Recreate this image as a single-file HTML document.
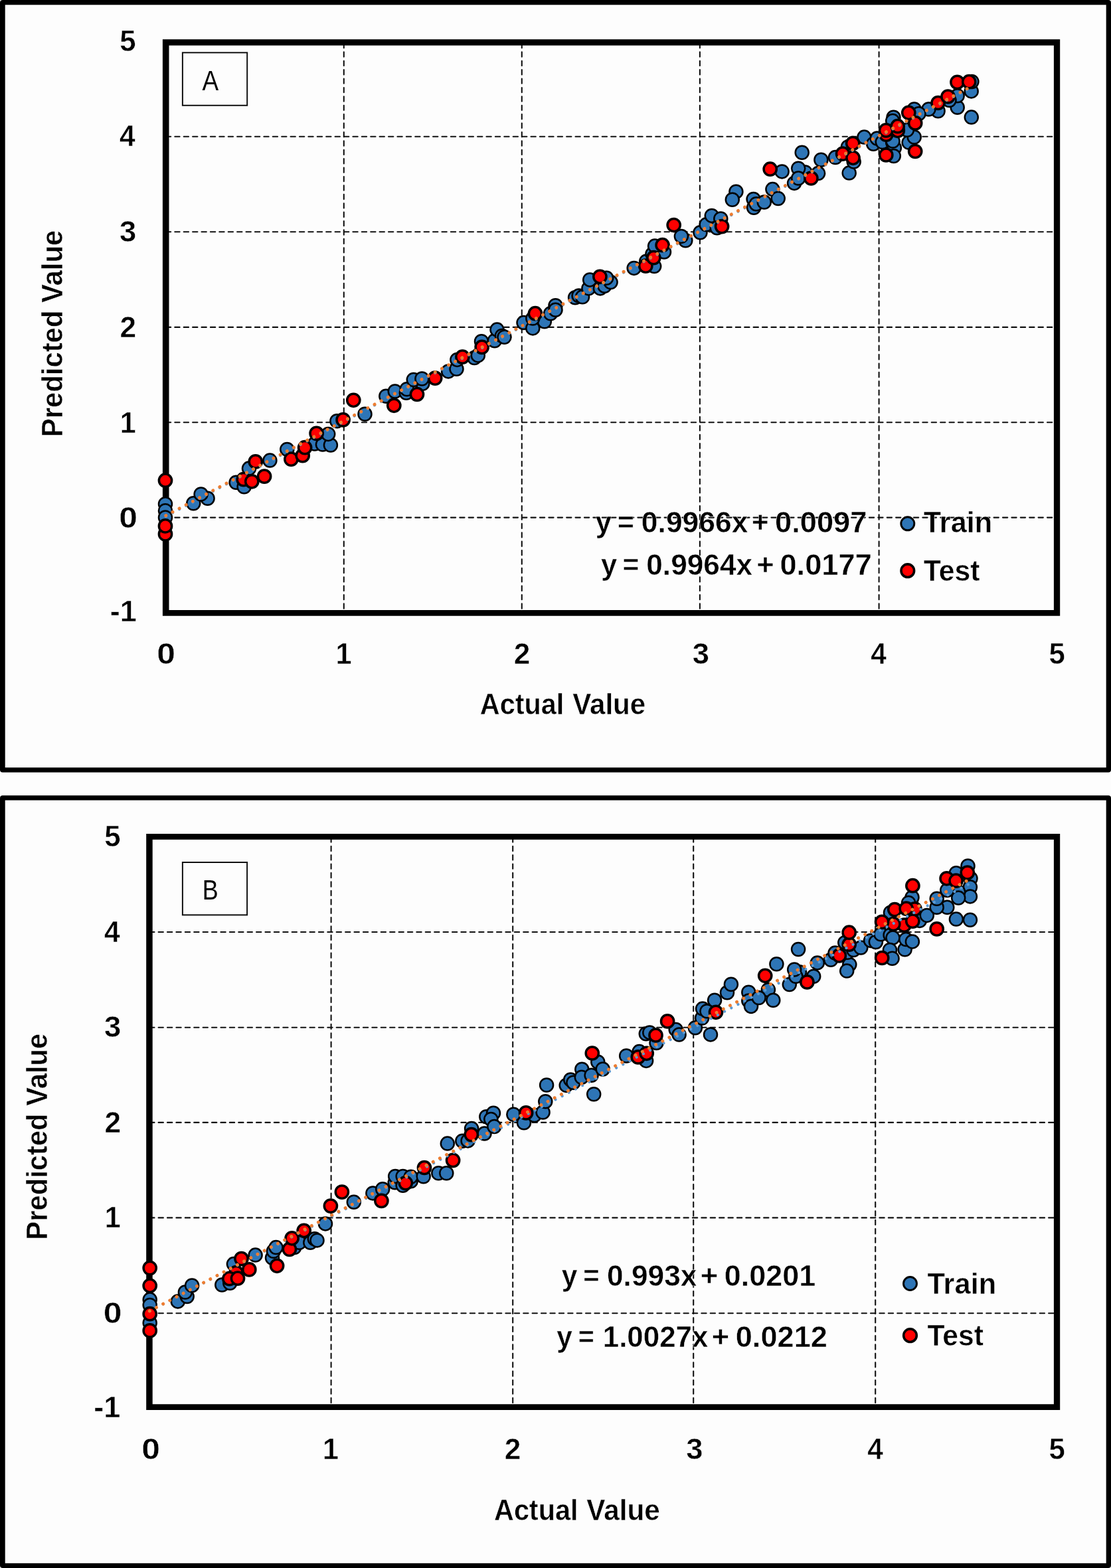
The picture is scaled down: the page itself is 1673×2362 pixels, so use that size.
<!DOCTYPE html>
<html lang="en">
<head>
<meta charset="utf-8">
<title>Predicted vs Actual Value</title>
<style>
html,body{margin:0;padding:0;background:#fdfdfd;}
body{width:1673px;height:2362px;overflow:hidden;}
svg{display:block;}
text{font-family:'Liberation Sans', Arial, Helvetica, sans-serif;fill:#000;}
text[font-weight=bold]{stroke:#fdfdfd;stroke-width:0.5;stroke-linejoin:round;}
.grid line{stroke:#111;stroke-width:2.1;stroke-linecap:round;stroke-dasharray:7.3 6.105;}
.b circle{fill:#2e75b6;stroke:#000;stroke-width:2.5;}
.r circle{fill:#ff0000;stroke:#000;stroke-width:3.5;}
.tr{stroke-width:5;stroke-linecap:round;stroke-dasharray:0.01 11.477;fill:none;}
.t1{stroke-width:4.2;}
</style>
</head>
<body>
<svg width="1673" height="2362" viewBox="0 0 1673 2362">
<rect x="0" y="0" width="1673" height="2362" fill="#fdfdfd"/>
<g id="panel-a">
<rect x="0" y="0" width="1673" height="1163.4" rx="4" fill="#000"/>
<rect x="7.7" y="7.3" width="1658" height="1148.9" fill="#fdfdfd"/>
<g class="grid"><line x1="517.8" y1="64.9" x2="517.8" y2="919.9"/><line x1="785.8" y1="64.9" x2="785.8" y2="919.9"/><line x1="1053.9" y1="64.9" x2="1053.9" y2="919.9"/><line x1="1323.6" y1="64.9" x2="1323.6" y2="919.9"/><line x1="249.9" y1="205.7" x2="1587.9" y2="205.7"/><line x1="249.9" y1="349.2" x2="1587.9" y2="349.2"/><line x1="249.9" y1="492.9" x2="1587.9" y2="492.9"/><line x1="249.9" y1="636.3" x2="1587.9" y2="636.3"/><line x1="249.9" y1="779.6" x2="1587.9" y2="779.6"/></g>
<path fill-rule="evenodd" fill="#000" d="M244.9 59.3H1596.2V927.8H244.9Z M254.5 68.5H1586.9V918.9H254.5Z"/>
<rect x="274.9" y="79.3" width="97.3" height="79.5" fill="#fdfdfd" stroke="#111" stroke-width="2"/>
<text transform="translate(304.52 135.8) scale(0.8802 1)" font-size="42" font-weight="normal">A</text>
<g class="tick"><text transform="translate(180.34 77.15) scale(0.969 1)" font-size="45.2" font-weight="bold">5</text><text transform="translate(179.91 220.25) scale(0.9423 1)" font-size="45.2" font-weight="bold">4</text><text transform="translate(179.91 364.25) scale(1.0056 1)" font-size="45.2" font-weight="bold">3</text><text transform="translate(180.52 507.95) scale(0.9798 1)" font-size="45.2" font-weight="bold">2</text><text transform="translate(180.66 651.55) scale(0.9556 1)" font-size="45.2" font-weight="bold">1</text><text transform="translate(179.15 794.65) scale(1.1039 1)" font-size="45.2" font-weight="bold">0</text><text transform="translate(165.87 936.45) scale(0.9969 1)" font-size="45.2" font-weight="bold">-1</text><text transform="translate(236.15 999.85) scale(1.1039 1)" font-size="45.2" font-weight="bold">0</text><text transform="translate(505.46 999.85) scale(0.9556 1)" font-size="45.2" font-weight="bold">1</text><text transform="translate(773.72 999.85) scale(0.9798 1)" font-size="45.2" font-weight="bold">2</text><text transform="translate(1042.81 999.85) scale(1.0056 1)" font-size="45.2" font-weight="bold">3</text><text transform="translate(1311.26 999.85) scale(0.9423 1)" font-size="45.2" font-weight="bold">4</text><text transform="translate(1579.44 999.85) scale(0.969 1)" font-size="45.2" font-weight="bold">5</text></g>
<text y="1075.95" font-size="45.2" font-weight="bold"><tspan x="722.82" textLength="126.37" lengthAdjust="spacingAndGlyphs">Actual</tspan> <tspan x="862.14" textLength="110.19" lengthAdjust="spacingAndGlyphs">Value</tspan></text>
<text transform="translate(94.45 658.17) rotate(-90) scale(0.9253 1)" font-size="45.2" font-weight="bold">Predicted Value</text>
<text y="801.95" font-size="45.2" font-weight="bold"><tspan x="896.81" textLength="24.2" lengthAdjust="spacingAndGlyphs">y</tspan> <tspan x="930.05" textLength="24.86" lengthAdjust="spacingAndGlyphs">=</tspan> <tspan x="965.87" textLength="160.51" lengthAdjust="spacingAndGlyphs">0.9966x</tspan> <tspan x="1131.9" textLength="25.56" lengthAdjust="spacingAndGlyphs">+</tspan> <tspan x="1167.04" textLength="138.38" lengthAdjust="spacingAndGlyphs">0.0097</tspan></text>
<text y="865.65" font-size="45.2" font-weight="bold"><tspan x="904.91" textLength="24.2" lengthAdjust="spacingAndGlyphs">y</tspan> <tspan x="937.45" textLength="24.86" lengthAdjust="spacingAndGlyphs">=</tspan> <tspan x="973.28" textLength="159.9" lengthAdjust="spacingAndGlyphs">0.9964x</tspan> <tspan x="1139.24" textLength="26.48" lengthAdjust="spacingAndGlyphs">+</tspan> <tspan x="1174.44" textLength="138.38" lengthAdjust="spacingAndGlyphs">0.0177</tspan></text>
<g class="b"><circle cx="249" cy="759.2" r="10"/><circle cx="249" cy="769.3" r="10"/><circle cx="249" cy="779.5" r="10"/><circle cx="291.3" cy="758.2" r="10"/><circle cx="312.6" cy="750.8" r="10"/><circle cx="302.6" cy="744.4" r="10"/><circle cx="355.6" cy="726.8" r="10"/><circle cx="367.6" cy="733.3" r="10"/><circle cx="375" cy="705.6" r="10"/><circle cx="406.4" cy="693.6" r="10"/><circle cx="432.3" cy="676.9" r="10"/><circle cx="473.8" cy="668.6" r="10"/><circle cx="485.9" cy="669.6" r="10"/><circle cx="497.9" cy="670.5" r="10"/><circle cx="494.2" cy="653.9" r="10"/><circle cx="507.4" cy="634.3" r="10"/><circle cx="549.5" cy="623.7" r="10"/><circle cx="581.3" cy="596.7" r="10"/><circle cx="594.8" cy="589.5" r="10"/><circle cx="611.8" cy="591.8" r="10"/><circle cx="612.7" cy="586.2" r="10"/><circle cx="636.3" cy="577.9" r="10"/><circle cx="622.8" cy="572" r="10"/><circle cx="635.4" cy="570.5" r="10"/><circle cx="675.1" cy="559.4" r="10"/><circle cx="687.5" cy="555.7" r="10"/><circle cx="688.4" cy="541.9" r="10"/><circle cx="714.3" cy="539.1" r="10"/><circle cx="719.8" cy="535.4" r="10"/><circle cx="725" cy="514.2" r="10"/><circle cx="744.8" cy="513.3" r="10"/><circle cx="748.5" cy="496.6" r="10"/><circle cx="755.9" cy="505.9" r="10"/><circle cx="759.5" cy="507.7" r="10"/><circle cx="788.5" cy="486.1" r="10"/><circle cx="802.3" cy="494.4" r="10"/><circle cx="819.9" cy="484.2" r="10"/><circle cx="802.3" cy="479.6" r="10"/><circle cx="829.1" cy="472.2" r="10"/><circle cx="836.5" cy="460.2" r="10"/><circle cx="836.5" cy="466.7" r="10"/><circle cx="866.1" cy="448.2" r="10"/><circle cx="871.6" cy="445.5" r="10"/><circle cx="877.1" cy="447.3" r="10"/><circle cx="886.4" cy="434.4" r="10"/><circle cx="888.2" cy="421.4" r="10"/><circle cx="903.9" cy="434.4" r="10"/><circle cx="910.4" cy="430.7" r="10"/><circle cx="919.6" cy="425.1" r="10"/><circle cx="913.2" cy="418.7" r="10"/><circle cx="954.7" cy="403.9" r="10"/><circle cx="985.2" cy="401.1" r="10"/><circle cx="973.2" cy="393.7" r="10"/><circle cx="982.4" cy="382.6" r="10"/><circle cx="1000" cy="379.5" r="10"/><circle cx="986.1" cy="370.6" r="10"/><circle cx="1032.3" cy="362.3" r="10"/><circle cx="1025.9" cy="355.9" r="10"/><circle cx="1054.5" cy="350.3" r="10"/><circle cx="1063.7" cy="338.3" r="10"/><circle cx="1071.8" cy="324.9" r="10"/><circle cx="1085.3" cy="329.5" r="10"/><circle cx="1079.7" cy="343.3" r="10"/><circle cx="1108.4" cy="288.8" r="10"/><circle cx="1102.8" cy="300.8" r="10"/><circle cx="1134.6" cy="299.9" r="10"/><circle cx="1135.1" cy="312.8" r="10"/><circle cx="1138.8" cy="307.3" r="10"/><circle cx="1150.8" cy="304.5" r="10"/><circle cx="1163.4" cy="285.1" r="10"/><circle cx="1171.7" cy="299" r="10"/><circle cx="1177.6" cy="258.4" r="10"/><circle cx="1196.1" cy="275.9" r="10"/><circle cx="1212.5" cy="259.5" r="10"/><circle cx="1202.2" cy="253.7" r="10"/><circle cx="1202.2" cy="268.5" r="10"/><circle cx="1207.7" cy="229.7" r="10"/><circle cx="1232.1" cy="261.1" r="10"/><circle cx="1236.4" cy="240.8" r="10"/><circle cx="1258" cy="237.1" r="10"/><circle cx="1278.7" cy="260.6" r="10"/><circle cx="1285.7" cy="243.6" r="10"/><circle cx="1277" cy="221.2" r="10"/><circle cx="1301.4" cy="206.6" r="10"/><circle cx="1315.2" cy="216.8" r="10"/><circle cx="1320.8" cy="208.5" r="10"/><circle cx="1328.8" cy="214" r="10"/><circle cx="1462.8" cy="176.6" r="10"/><circle cx="1462.7" cy="137.4" r="10"/><circle cx="1463.4" cy="123" r="10"/><circle cx="1441.7" cy="161.8" r="10"/><circle cx="1441.7" cy="144.2" r="10"/><circle cx="1429.5" cy="151" r="10"/><circle cx="1412.6" cy="167.2" r="10"/><circle cx="1398.4" cy="164.5" r="10"/><circle cx="1376.7" cy="164.5" r="10"/><circle cx="1383.5" cy="171.3" r="10"/><circle cx="1345.5" cy="176.7" r="10"/><circle cx="1344.2" cy="182.1" r="10"/><circle cx="1368.6" cy="214.6" r="10"/><circle cx="1376.7" cy="206.5" r="10"/><circle cx="1365.9" cy="195.7" r="10"/><circle cx="1344.2" cy="214.6" r="10"/><circle cx="1346.9" cy="222.8" r="10"/><circle cx="1345.8" cy="235" r="10"/><circle cx="1344.5" cy="212.5" r="10"/></g>
<g class="r"><circle cx="249" cy="723.7" r="9.6"/><circle cx="249" cy="804.4" r="9.6"/><circle cx="249" cy="792.4" r="9.6"/><circle cx="384.8" cy="695.4" r="9.6"/><circle cx="398.1" cy="717.6" r="9.6"/><circle cx="366.7" cy="722.2" r="9.6"/><circle cx="379.3" cy="725.3" r="9.6"/><circle cx="438.4" cy="691.7" r="9.6"/><circle cx="455.7" cy="686.2" r="9.6"/><circle cx="459.1" cy="674.2" r="9.6"/><circle cx="476.6" cy="652.9" r="9.6"/><circle cx="532.3" cy="602.8" r="9.6"/><circle cx="516.6" cy="632.4" r="9.6"/><circle cx="593.3" cy="610.8" r="9.6"/><circle cx="628" cy="594" r="9.6"/><circle cx="655.2" cy="569.6" r="9.6"/><circle cx="696.4" cy="537.6" r="9.6"/><circle cx="725.7" cy="522.9" r="9.6"/><circle cx="806" cy="472.2" r="9.6"/><circle cx="903.4" cy="416.8" r="9.6"/><circle cx="972.3" cy="400.6" r="9.6"/><circle cx="984.3" cy="388.2" r="9.6"/><circle cx="997.6" cy="369.2" r="9.6"/><circle cx="1014.7" cy="339" r="9.6"/><circle cx="1087.1" cy="341.1" r="9.6"/><circle cx="1159.7" cy="254.7" r="9.6"/><circle cx="1221.4" cy="268.5" r="9.6"/><circle cx="1269.1" cy="231.6" r="9.6"/><circle cx="1284.5" cy="237.8" r="9.6"/><circle cx="1284.2" cy="216" r="9.6"/><circle cx="1334.4" cy="202.6" r="9.6"/><circle cx="1351.8" cy="196.8" r="9.6"/><circle cx="1334.3" cy="233.5" r="9.6"/><circle cx="1378.2" cy="228" r="9.6"/><circle cx="1334.2" cy="196.4" r="9.6"/><circle cx="1351.7" cy="190.2" r="9.6"/><circle cx="1378.2" cy="185.4" r="9.6"/><circle cx="1368.3" cy="169.8" r="9.6"/><circle cx="1412.6" cy="155" r="9.6"/><circle cx="1427.5" cy="145.5" r="9.6"/><circle cx="1441.5" cy="123.9" r="9.6"/><circle cx="1459.3" cy="123.2" r="9.6"/></g>
<line class="tr t1" x1="249.8" y1="777.9" x2="1462.6" y2="131.4" stroke="#5b9bd5"/>
<line class="tr" x1="249.8" y1="776.7" x2="1462.6" y2="130.3" stroke="#ed7d31"/>
<g class="b"><circle cx="1366.8" cy="788.8" r="10" style="stroke-width:2.9"/></g>
<text transform="translate(1390.82 801.85) scale(0.9565 1)" font-size="45.2" font-weight="bold">Train</text>
<g class="r"><circle cx="1366.8" cy="859.7" r="9.8" style="stroke-width:3.6"/></g>
<text transform="translate(1390.82 874.75) scale(0.9448 1)" font-size="45.2" font-weight="bold">Test</text>
</g>
<g id="panel-b">
<rect x="0" y="1198.3" width="1673" height="1163.7" rx="4" fill="#000"/>
<rect x="7.7" y="1205.5" width="1658" height="1149.3" fill="#fdfdfd"/>
<g class="grid"><line x1="498.6" y1="1261.3" x2="498.6" y2="2116.2"/><line x1="772.2" y1="1261.3" x2="772.2" y2="2116.2"/><line x1="1044.2" y1="1261.3" x2="1044.2" y2="2116.2"/><line x1="1318.2" y1="1261.3" x2="1318.2" y2="2116.2"/><line x1="225.2" y1="1404" x2="1587.9" y2="1404"/><line x1="225.2" y1="1547.7" x2="1587.9" y2="1547.7"/><line x1="225.2" y1="1690.9" x2="1587.9" y2="1690.9"/><line x1="225.2" y1="1834.4" x2="1587.9" y2="1834.4"/><line x1="225.2" y1="1978.3" x2="1587.9" y2="1978.3"/></g>
<path fill-rule="evenodd" fill="#000" d="M220.2 1256H1596.2V2124H220.2Z M229.7 1264.7H1586.9V2115.2H229.7Z"/>
<rect x="274.9" y="1299" width="97.2" height="79.3" fill="#fdfdfd" stroke="#111" stroke-width="2"/>
<text transform="translate(304.83 1355.2) scale(0.8545 1)" font-size="42" font-weight="normal">B</text>
<g class="tick"><text transform="translate(157.34 1275.15) scale(0.969 1)" font-size="45.2" font-weight="bold">5</text><text transform="translate(156.91 1418.85) scale(0.9423 1)" font-size="45.2" font-weight="bold">4</text><text transform="translate(156.91 1562.45) scale(1.0056 1)" font-size="45.2" font-weight="bold">3</text><text transform="translate(157.52 1705.95) scale(0.9798 1)" font-size="45.2" font-weight="bold">2</text><text transform="translate(157.66 1849.35) scale(0.9556 1)" font-size="45.2" font-weight="bold">1</text><text transform="translate(155.85 1993.15) scale(1.1039 1)" font-size="45.2" font-weight="bold">0</text><text transform="translate(141.27 2135.15) scale(0.9969 1)" font-size="45.2" font-weight="bold">-1</text><text transform="translate(213.25 2198.45) scale(1.1039 1)" font-size="45.2" font-weight="bold">0</text><text transform="translate(485.96 2198.45) scale(0.9556 1)" font-size="45.2" font-weight="bold">1</text><text transform="translate(759.72 2198.45) scale(0.9798 1)" font-size="45.2" font-weight="bold">2</text><text transform="translate(1033.31 2198.45) scale(1.0056 1)" font-size="45.2" font-weight="bold">3</text><text transform="translate(1306.26 2198.45) scale(0.9423 1)" font-size="45.2" font-weight="bold">4</text><text transform="translate(1579.44 2198.45) scale(0.969 1)" font-size="45.2" font-weight="bold">5</text></g>
<text y="2289.85" font-size="45.2" font-weight="bold"><tspan x="744.02" textLength="126.37" lengthAdjust="spacingAndGlyphs">Actual</tspan> <tspan x="883.34" textLength="110.5" lengthAdjust="spacingAndGlyphs">Value</tspan></text>
<text transform="translate(71.35 1867.66) rotate(-90) scale(0.9241 1)" font-size="45.2" font-weight="bold">Predicted Value</text>
<text y="1936.95" font-size="45.2" font-weight="bold"><tspan x="845.82" textLength="23.69" lengthAdjust="spacingAndGlyphs">y</tspan> <tspan x="878.18" textLength="24.4" lengthAdjust="spacingAndGlyphs">=</tspan> <tspan x="913.98" textLength="135.45" lengthAdjust="spacingAndGlyphs">0.993x</tspan> <tspan x="1054.84" textLength="26.48" lengthAdjust="spacingAndGlyphs">+</tspan> <tspan x="1090.75" textLength="137.46" lengthAdjust="spacingAndGlyphs">0.0201</tspan></text>
<text y="2029.15" font-size="45.2" font-weight="bold"><tspan x="838.13" textLength="23.59" lengthAdjust="spacingAndGlyphs">y</tspan> <tspan x="870.8" textLength="24.05" lengthAdjust="spacingAndGlyphs">=</tspan> <tspan x="907.72" textLength="158.66" lengthAdjust="spacingAndGlyphs">1.0027x</tspan> <tspan x="1071.84" textLength="26.37" lengthAdjust="spacingAndGlyphs">+</tspan> <tspan x="1107.74" textLength="138.15" lengthAdjust="spacingAndGlyphs">0.0212</tspan></text>
<g class="b"><circle cx="225.7" cy="1957.6" r="10"/><circle cx="225.7" cy="1965.9" r="10"/><circle cx="225.7" cy="1992.7" r="10"/><circle cx="267.8" cy="1960.4" r="10"/><circle cx="281.7" cy="1953" r="10"/><circle cx="278.9" cy="1946.5" r="10"/><circle cx="289.1" cy="1936.4" r="10"/><circle cx="334.3" cy="1935.5" r="10"/><circle cx="346.3" cy="1932.7" r="10"/><circle cx="351.9" cy="1904.1" r="10"/><circle cx="384.6" cy="1890.6" r="10"/><circle cx="410" cy="1894.8" r="10"/><circle cx="411.9" cy="1884.7" r="10"/><circle cx="415.6" cy="1879.1" r="10"/><circle cx="443.3" cy="1879.1" r="10"/><circle cx="450.7" cy="1871.7" r="10"/><circle cx="467.3" cy="1871.7" r="10"/><circle cx="473.8" cy="1866.2" r="10"/><circle cx="477.5" cy="1868.4" r="10"/><circle cx="490" cy="1843.4" r="10"/><circle cx="532.8" cy="1810.7" r="10"/><circle cx="561.4" cy="1797.4" r="10"/><circle cx="576.2" cy="1791.3" r="10"/><circle cx="594.7" cy="1781.2" r="10"/><circle cx="595.2" cy="1771.9" r="10"/><circle cx="606.7" cy="1785.8" r="10"/><circle cx="606.7" cy="1771.9" r="10"/><circle cx="618.7" cy="1779.3" r="10"/><circle cx="618.7" cy="1772.8" r="10"/><circle cx="637.7" cy="1772.3" r="10"/><circle cx="660.3" cy="1767.3" r="10"/><circle cx="672.3" cy="1767.3" r="10"/><circle cx="673.8" cy="1722.6" r="10"/><circle cx="696.3" cy="1718.7" r="10"/><circle cx="704.6" cy="1718.4" r="10"/><circle cx="710.1" cy="1699.9" r="10"/><circle cx="729.5" cy="1707.6" r="10"/><circle cx="732.3" cy="1682.3" r="10"/><circle cx="743" cy="1676.8" r="10"/><circle cx="739.3" cy="1686" r="10"/><circle cx="744.3" cy="1697.1" r="10"/><circle cx="773.3" cy="1678.8" r="10"/><circle cx="789" cy="1691.2" r="10"/><circle cx="804.7" cy="1680.1" r="10"/><circle cx="817.6" cy="1675.5" r="10"/><circle cx="821.3" cy="1659.2" r="10"/><circle cx="823.1" cy="1634.5" r="10"/><circle cx="852.7" cy="1634.9" r="10"/><circle cx="859.2" cy="1626.5" r="10"/><circle cx="863.4" cy="1630.8" r="10"/><circle cx="876.3" cy="1610.8" r="10"/><circle cx="875.8" cy="1622.8" r="10"/><circle cx="890.6" cy="1619.7" r="10"/><circle cx="894.2" cy="1648.2" r="10"/><circle cx="900.3" cy="1599.8" r="10"/><circle cx="907.7" cy="1610.5" r="10"/><circle cx="943.2" cy="1590.5" r="10"/><circle cx="962.6" cy="1584.1" r="10"/><circle cx="973.1" cy="1597.9" r="10"/><circle cx="972.8" cy="1557.3" r="10"/><circle cx="978.3" cy="1555.4" r="10"/><circle cx="988.5" cy="1571.1" r="10"/><circle cx="1017.7" cy="1550.9" r="10"/><circle cx="1022.6" cy="1558.6" r="10"/><circle cx="1046.9" cy="1548.3" r="10"/><circle cx="1070" cy="1558.4" r="10"/><circle cx="1057.1" cy="1533.5" r="10"/><circle cx="1058" cy="1519.6" r="10"/><circle cx="1064.5" cy="1523.3" r="10"/><circle cx="1076.1" cy="1506.7" r="10"/><circle cx="1095" cy="1495.2" r="10"/><circle cx="1100.9" cy="1482.7" r="10"/><circle cx="1127.3" cy="1494.7" r="10"/><circle cx="1127.3" cy="1507.6" r="10"/><circle cx="1131" cy="1515.9" r="10"/><circle cx="1156.9" cy="1491" r="10"/><circle cx="1142.6" cy="1503" r="10"/><circle cx="1164.3" cy="1506.7" r="10"/><circle cx="1169.4" cy="1452.2" r="10"/><circle cx="1188.8" cy="1483.1" r="10"/><circle cx="1204" cy="1464.2" r="10"/><circle cx="1198.4" cy="1470.7" r="10"/><circle cx="1196.2" cy="1460.5" r="10"/><circle cx="1202.1" cy="1430" r="10"/><circle cx="1225.2" cy="1470.7" r="10"/><circle cx="1230.8" cy="1450.4" r="10"/><circle cx="1251.1" cy="1445.7" r="10"/><circle cx="1257.5" cy="1435.6" r="10"/><circle cx="1279.3" cy="1453" r="10"/><circle cx="1275.2" cy="1462.6" r="10"/><circle cx="1276" cy="1434.7" r="10"/><circle cx="1285.2" cy="1431" r="10"/><circle cx="1296.3" cy="1427.6" r="10"/><circle cx="1272.3" cy="1419.9" r="10"/><circle cx="1311.1" cy="1416.9" r="10"/><circle cx="1318.9" cy="1419" r="10"/><circle cx="1326.4" cy="1407.2" r="10"/><circle cx="1340.6" cy="1408.5" r="10"/><circle cx="1344.5" cy="1412.6" r="10"/><circle cx="1340" cy="1431" r="10"/><circle cx="1343.6" cy="1443.7" r="10"/><circle cx="1362.6" cy="1430.2" r="10"/><circle cx="1364.3" cy="1415" r="10"/><circle cx="1373.9" cy="1418.4" r="10"/><circle cx="1384.8" cy="1386.9" r="10"/><circle cx="1395.8" cy="1378.9" r="10"/><circle cx="1457.5" cy="1304.4" r="10"/><circle cx="1439.9" cy="1315.2" r="10"/><circle cx="1461.5" cy="1323.3" r="10"/><circle cx="1460.9" cy="1336.2" r="10"/><circle cx="1460.9" cy="1350.4" r="10"/><circle cx="1443.2" cy="1343.7" r="10"/><circle cx="1443.2" cy="1352.5" r="10"/><circle cx="1426.3" cy="1341" r="10"/><circle cx="1460.9" cy="1385.7" r="10"/><circle cx="1439.9" cy="1384.6" r="10"/><circle cx="1426.3" cy="1366.7" r="10"/><circle cx="1410.7" cy="1366.7" r="10"/><circle cx="1410.7" cy="1353.8" r="10"/><circle cx="1372.1" cy="1355.9" r="10"/><circle cx="1373.5" cy="1351.8" r="10"/><circle cx="1368.1" cy="1359.9" r="10"/><circle cx="1341" cy="1374.8" r="10"/></g>
<g class="r"><circle cx="225.7" cy="1910.1" r="9.6"/><circle cx="225.7" cy="1936.8" r="9.6"/><circle cx="225.7" cy="2004.4" r="9.6"/><circle cx="225.7" cy="1979.2" r="9.6"/><circle cx="355.6" cy="1917" r="9.6"/><circle cx="345.4" cy="1926.2" r="9.6"/><circle cx="358" cy="1925.7" r="9.6"/><circle cx="363.5" cy="1896.1" r="9.6"/><circle cx="375.3" cy="1912.4" r="9.6"/><circle cx="417.1" cy="1906.8" r="9.6"/><circle cx="435.9" cy="1881.9" r="9.6"/><circle cx="439.6" cy="1865.3" r="9.6"/><circle cx="457.7" cy="1853.8" r="9.6"/><circle cx="497.9" cy="1816.6" r="9.6"/><circle cx="514.9" cy="1795.6" r="9.6"/><circle cx="574.4" cy="1808.9" r="9.6"/><circle cx="610.8" cy="1782.1" r="9.6"/><circle cx="639" cy="1759" r="9.6"/><circle cx="682.1" cy="1747.9" r="9.6"/><circle cx="709.8" cy="1709.1" r="9.6"/><circle cx="792.1" cy="1676.4" r="9.6"/><circle cx="891.8" cy="1586.5" r="9.6"/><circle cx="960.8" cy="1592.4" r="9.6"/><circle cx="973.7" cy="1586.8" r="9.6"/><circle cx="987.5" cy="1559.5" r="9.6"/><circle cx="1005.1" cy="1538.4" r="9.6"/><circle cx="1078" cy="1524.8" r="9.6"/><circle cx="1152.2" cy="1469.8" r="9.6"/><circle cx="1215.4" cy="1479.4" r="9.6"/><circle cx="1263.8" cy="1439.4" r="9.6"/><circle cx="1278.7" cy="1422.6" r="9.6"/><circle cx="1278.7" cy="1404.7" r="9.6"/><circle cx="1328.2" cy="1443" r="9.6"/><circle cx="1410.7" cy="1399.4" r="9.6"/><circle cx="1377.5" cy="1369.4" r="9.6"/><circle cx="1361.6" cy="1393.6" r="9.6"/><circle cx="1345.3" cy="1392" r="9.6"/><circle cx="1328.1" cy="1388.9" r="9.6"/><circle cx="1374.3" cy="1387.6" r="9.6"/><circle cx="1347.3" cy="1370.1" r="9.6"/><circle cx="1364.7" cy="1368.7" r="9.6"/><circle cx="1374.4" cy="1334.2" r="9.6"/><circle cx="1425.6" cy="1323.3" r="9.6"/><circle cx="1439.6" cy="1326.7" r="9.6"/><circle cx="1456.8" cy="1314.5" r="9.6"/></g>
<line class="tr t1" x1="225.3" y1="1975" x2="1460.9" y2="1330.8" stroke="#5b9bd5"/>
<line class="tr" x1="225.3" y1="1974.9" x2="1460.9" y2="1324.3" stroke="#ed7d31"/>
<g class="b"><circle cx="1370.5" cy="1933.5" r="10" style="stroke-width:2.9"/></g>
<text transform="translate(1396.42 1948.65) scale(0.9612 1)" font-size="45.2" font-weight="bold">Train</text>
<g class="r"><circle cx="1370.5" cy="2011.7" r="9.8" style="stroke-width:3.6"/></g>
<text transform="translate(1396.42 2026.95) scale(0.9437 1)" font-size="45.2" font-weight="bold">Test</text>
</g>
</svg>
</body>
</html>
